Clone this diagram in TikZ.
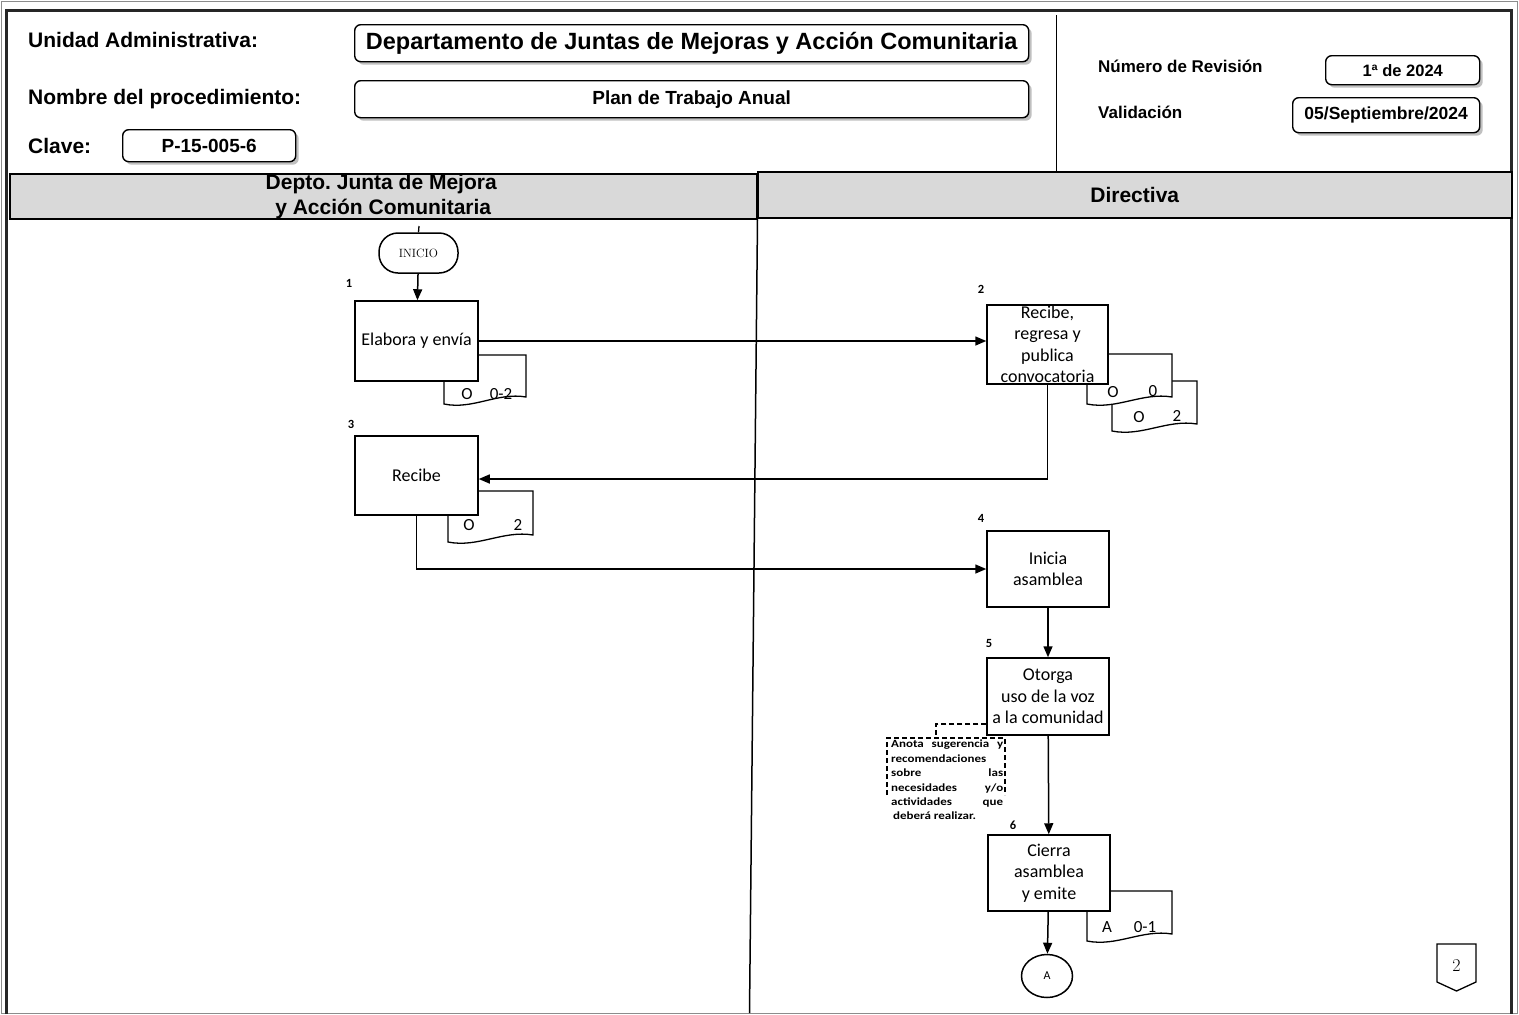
\documentclass[tikz,border=0pt]{standalone}
\usepackage{fontspec}
\newfontfamily\hdrfont{Liberation Sans}
\newfontfamily\flowfont{Carlito}
\newfontfamily\notefont[FakeStretch=1.18]{Carlito}
\usetikzlibrary{arrows.meta,shapes.geometric,shadows,calc}
\definecolor{laneGray}{HTML}{D9D9D9}

% document sheet with a wavy lower edge: left, top, right, lower-left y
\newcommand{\docsheet}[4]{%
  \draw[docline] (#3,#2) -- (#1,#2) -- (#1,#4)
    .. controls ({#1+0.35*(#3-#1)},{#4+6}) and ({#1+0.65*(#3-#1)},{#4-12}) .. (#3,{#4-7}) -- cycle;}

\begin{document}
\begin{tikzpicture}[x=1pt,y=-1pt,
  hlabel/.style={font=\hdrfont\bfseries\fontsize{21}{25}\selectfont,inner sep=0pt},
  slabel/.style={font=\hdrfont\bfseries\fontsize{17}{20}\selectfont,inner sep=0pt},
  valbox/.style={draw,line width=1.4pt,rounded corners=6pt,fill=white,inner sep=0pt,
    drop shadow={shadow xshift=3pt,shadow yshift=-3pt,fill=black!55,opacity=0.45}},
  lanehdr/.style={draw,line width=1.5pt,fill=laneGray,inner sep=0pt,align=center,
    font=\hdrfont\bfseries\fontsize{21}{25}\selectfont},
  proc/.style={draw,line width=1.5pt,fill=white,align=center,inner sep=1pt,
    font=\flowfont\fontsize{18}{21.5}\selectfont},
  stepno/.style={font=\flowfont\bfseries\fontsize{12.5}{14}\selectfont,inner sep=0pt},
  docline/.style={draw,line width=1.3pt,fill=white},
  doctext/.style={font=\flowfont\fontsize{17}{19}\selectfont,inner sep=0pt},
  flow/.style={line width=1.5pt,-{Triangle[length=11pt,width=9pt]}},
  noteline/.style={line width=1.2pt,dash pattern=on 5pt off 3pt},
]
\useasboundingbox (0,0) rectangle (1519,1015);

% outer frame
\draw[black!45,line width=0.8pt] (1.5,1.5) rectangle (1517.5,1013.5);
\draw[black!85,line width=3pt] (6.5,1014) -- (6.5,10) -- (1511.5,10) -- (1511.5,1014);

% header
\draw[line width=1.3pt] (1056.5,15) -- (1056.5,171);
\node[hlabel,anchor=base west] (lblUA) at (28,47) {Unidad Administrativa:};
\node[hlabel,anchor=base west] (lblNP) at (28,104) {Nombre del procedimiento:};
\node[hlabel,anchor=base west] (lblCl) at (28,153) {Clave:};
\node[valbox,anchor=north west,minimum width=674,minimum height=37,
  font=\hdrfont\bfseries\fontsize{23.5}{27}\selectfont] (vUA) at (354,24)
  {Departamento de Juntas de Mejoras y Acción Comunitaria};
\node[valbox,anchor=north west,minimum width=674,minimum height=37,
  font=\hdrfont\bfseries\fontsize{19}{22}\selectfont] (vNP) at (354,80)
  {Plan de Trabajo Anual};
\node[valbox,anchor=north west,minimum width=173,minimum height=32,
  font=\hdrfont\bfseries\fontsize{19}{22}\selectfont] (vCl) at (122,129)
  {P-15-005-6};
\node[slabel,anchor=base west] (lblRev) at (1098,72) {Número de Revisión};
\node[slabel,anchor=base west] (lblVal) at (1098,118) {Validación};
\node[valbox,anchor=north west,minimum width=154,minimum height=29,
  font=\hdrfont\bfseries\fontsize{16.5}{19}\selectfont] (vRev) at (1325,55)
  {1ª de 2024};
\node[valbox,anchor=north west,minimum width=187,minimum height=35,
  font=\hdrfont\bfseries\fontsize{17.5}{20}\selectfont] (vVal) at (1292,97)
  {05/Septiembre/2024};

% swimlane headers
\node[lanehdr,anchor=north west,minimum width=747,minimum height=45] (laneA) at (9,173)
  {\hspace*{-4pt}Depto.\ Junta de Mejora\\y Acción Comunitaria};
\node[lanehdr,anchor=north west,minimum width=754,minimum height=46] (laneB) at (757,171)
  {Directiva};
\draw[line width=1.5pt] (laneA.south east) -- (749.5,1013);

% start terminal
\coordinate (stub) at (419,226);
\node[draw,line width=1.5pt,rounded corners=19pt,minimum width=79,minimum height=40,
  inner sep=0pt,font=\fontsize{12}{14}\selectfont] (ini) at (418.5,253) {INICIO};
\draw[line width=1.3pt] (stub) -- (ini.north);

% documents behind the activities
\docsheet{444}{355}{526}{404}
\docsheet{1112}{381}{1197}{431}
\docsheet{1087}{354}{1172}{404}
\docsheet{448}{491}{533}{542}
\docsheet{1087}{891}{1172}{941}

% activities
\node[stepno] (n1) at (349,283) {1};
\node[proc,minimum width=123,minimum height=80] (b1) at (416.5,341) {Elabora y envía};
\node[stepno] (n2) at (981,289) {2};
\node[proc,minimum width=121,minimum height=79] (b2) at (1047.5,344.5)
  {Recibe,\\regresa y\\publica\\convocatoria};
\node[stepno] (n3) at (351,424) {3};
\node[proc,minimum width=123,minimum height=79] (b3) at (416.5,475.5) {Recibe};
\node[stepno] (n4) at (981,518) {4};
\node[proc,minimum width=122,minimum height=76] (b4) at (1048,569) {Inicia\\asamblea};
\node[stepno] (n5) at (989,643) {5};
\node[proc,minimum width=122,minimum height=77] (b5) at (1048,696.5)
  {Otorga\\uso de la voz\\a la comunidad};
\node[stepno] (n6) at (1013,825) {6};
\node[proc,minimum width=122,minimum height=76] (b6) at (1049,873)
  {Cierra\\asamblea\\y emite};

% document labels
\node[doctext] (d1a) at (467,394) {O};
\node[doctext] (d1b) at (501,394) {0-2};
\node[doctext] (d2a) at (1113,392) {O};
\node[doctext] (d2b) at (1153,391) {0};
\node[doctext] (d2c) at (1139,417) {O};
\node[doctext] (d2d) at (1177,416) {2};
\node[doctext] (d3a) at (469,525) {O};
\node[doctext] (d3b) at (518,525) {2};
\node[doctext] (d6a) at (1107,927) {A};
\node[doctext] (d6b) at (1145,927) {0-1};

% connectors
\draw[flow] (ini) -- (b1);
\draw[flow] (b1.east) -- (b1.east -| b2.west);
\coordinate (c23) at (1047.5,479);
\draw[line width=1.5pt] (b2.south) -- (c23);
\draw[flow] (c23) -- (c23 -| b3.east);
\draw[flow] (b3.south) |- (b4.west);
\draw[flow] (b4) -- (b5);
\draw[flow] (b5) -- (b6);
\node[draw,ellipse,line width=1.5pt,minimum width=51,minimum height=43,inner sep=0pt,
  font=\flowfont\fontsize{12}{14}\selectfont] (conA) at (1047,976) {A};
\draw[flow] (b6) -- (conA);

% annotation attached to activity 5
\coordinate (nj) at (936,724);
\coordinate (nTL) at (887,738);
\coordinate (nTR) at (1005,738);
\draw[noteline] (nj -| b5.west) -- (nj) -- (nj |- nTL);
\draw[noteline] ($(nTL)+(0,57)$) -- (nTL) -- (nTR) -- ($(nTR)+(0,57)$);
\node[anchor=north west,inner sep=0pt,align=left,
  font=\notefont\bfseries\fontsize{11}{14.4}\selectfont] (note) at (891,740)
  {\makebox[112pt][s]{Anota sugerencia y}\\
   recomendaciones\\
   \makebox[112pt][s]{sobre las}\\
   \makebox[112pt][s]{necesidades y/o}\\
   \makebox[112pt][s]{actividades que}\\
   \hspace*{2pt}deberá realizar.};

% off-page connector
\draw[line width=1.3pt] (1437,944) -- (1476,944) -- (1476,982) -- (1456.5,991) -- (1437,982) -- cycle;
\node[inner sep=0pt,font=\fontsize{18}{20}\selectfont] (pg) at (1456.5,966) {2};
\end{tikzpicture}
\end{document}
